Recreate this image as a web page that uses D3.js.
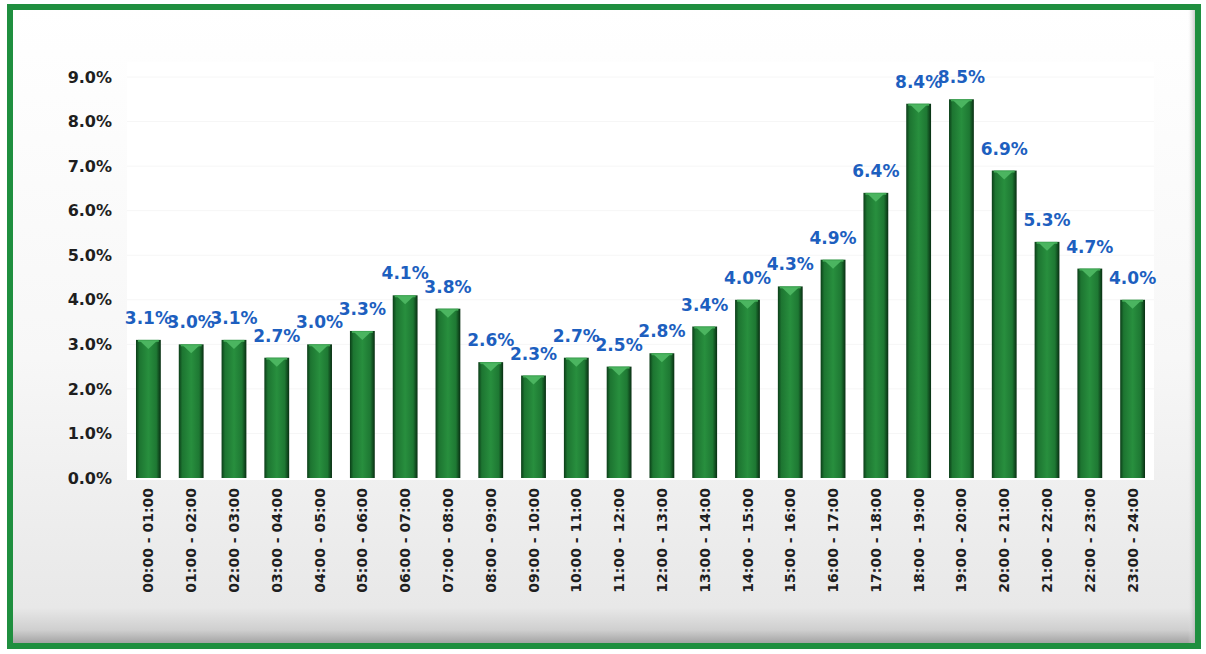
<!DOCTYPE html>
<html>
<head>
<meta charset="utf-8">
<script src="https://cdn.jsdelivr.net/npm/d3@7"></script>
<style>
  body { margin: 0; background: #fff; }
  svg { display: block; font-family: "DejaVu Sans", Verdana, sans-serif; }
</style>
</head>
<body>
<svg></svg>
<script>
const hours = ["00:00 - 01:00", "01:00 - 02:00", "02:00 - 03:00", "03:00 - 04:00",
  "04:00 - 05:00", "05:00 - 06:00", "06:00 - 07:00", "07:00 - 08:00",
  "08:00 - 09:00", "09:00 - 10:00", "10:00 - 11:00", "11:00 - 12:00",
  "12:00 - 13:00", "13:00 - 14:00", "14:00 - 15:00", "15:00 - 16:00",
  "16:00 - 17:00", "17:00 - 18:00", "18:00 - 19:00", "19:00 - 20:00",
  "20:00 - 21:00", "21:00 - 22:00", "22:00 - 23:00", "23:00 - 24:00"];
const shares = [0.031, 0.030, 0.031, 0.027, 0.030, 0.033, 0.041, 0.038,
  0.026, 0.023, 0.027, 0.025, 0.028, 0.034, 0.040, 0.043,
  0.049, 0.064, 0.084, 0.085, 0.069, 0.053, 0.047, 0.040];
const yTicks = [0, 0.01, 0.02, 0.03, 0.04, 0.05, 0.06, 0.07, 0.08, 0.09];

const W = 1206, H = 654;
const svg = d3.select('svg').attr('width', W).attr('height', H);
const defs = svg.append('defs');

// chart area background: white fading to light grey at the bottom
const bg = defs.append('linearGradient').attr('id', 'bg')
    .attr('x1', 0).attr('y1', 0).attr('x2', 0).attr('y2', 1);
bg.append('stop').attr('offset', '0%').attr('stop-color', '#ffffff');
bg.append('stop').attr('offset', '55%').attr('stop-color', '#f7f7f7');
bg.append('stop').attr('offset', '94%').attr('stop-color', '#e8e8e8');
bg.append('stop').attr('offset', '97.5%').attr('stop-color', '#cfcfcf');
bg.append('stop').attr('offset', '100%').attr('stop-color', '#9a9a9a');

const rs = defs.append('linearGradient').attr('id', 'rs')
    .attr('x1', 0).attr('y1', 0).attr('x2', 1).attr('y2', 0);
rs.append('stop').attr('offset', '0%').attr('stop-color', '#e6e6e6').attr('stop-opacity', 0);
rs.append('stop').attr('offset', '100%').attr('stop-color', '#a0a0a0').attr('stop-opacity', 1);

// bar body
const bar = defs.append('linearGradient').attr('id', 'bar')
    .attr('x1', 0).attr('y1', 0).attr('x2', 1).attr('y2', 0);
[['0%', '#0b3d18'], ['14%', '#1d7531'], ['50%', '#288f3e'], ['82%', '#1e7833'], ['100%', '#082e12']]
  .forEach(s => bar.append('stop').attr('offset', s[0]).attr('stop-color', s[1]));

svg.append('rect')
    .attr('x', 10).attr('y', 7).attr('width', 1188).attr('height', 639)
    .attr('fill', 'url(#bg)');
svg.append('rect')
    .attr('x', 1188).attr('y', 7).attr('width', 10).attr('height', 639)
    .attr('fill', 'url(#rs)');

const x = d3.scaleBand()
    .domain(hours)
    .range([127, 1154])
    .paddingInner(0.42)
    .paddingOuter(0.21);

const y = d3.scaleLinear()
    .domain([0, 0.09])
    .range([478, 77]);

// plot area
svg.append('rect')
    .attr('x', 127).attr('y', 62)
    .attr('width', 1154 - 127).attr('height', 480 - 62)
    .attr('fill', '#ffffff');

svg.append('g')
  .selectAll('line')
  .data(yTicks.slice(1))
  .enter().append('line')
    .attr('x1', 127).attr('x2', 1154)
    .attr('y1', d => y(d)).attr('y2', d => y(d))
    .attr('stroke', '#f6f6f6');

// y axis labels
const yAxis = svg.append('g')
    .attr('transform', 'translate(127,0)')
    .call(d3.axisLeft(y).tickValues(yTicks).tickFormat(d3.format('.1%')).tickSize(0).tickPadding(15));
yAxis.select('.domain').remove();
yAxis.selectAll('text')
    .attr('font-size', 16)
    .attr('font-weight', 'bold')
    .attr('font-family', '"DejaVu Sans", Verdana, sans-serif')
    .attr('fill', '#1e1e1e');

// x axis labels, vertical
const xAxis = svg.append('g')
    .attr('transform', 'translate(0,478)')
    .call(d3.axisBottom(x).tickSize(0).tickPadding(0));
xAxis.select('.domain').remove();
xAxis.selectAll('text')
    .attr('font-size', 14)
    .attr('font-weight', 'bold')
    .attr('font-family', '"DejaVu Sans", Verdana, sans-serif')
    .attr('fill', '#1e1e1e')
    .attr('text-anchor', 'end')
    .attr('transform', 'rotate(-90)')
    .attr('x', -10)
    .attr('y', 0)
    .attr('dy', '0.36em');

// bars
const bars = svg.append('g').selectAll('g')
    .data(hours.map((h, i) => ({ h: h, v: shares[i] })))
    .enter().append('g');

bars.append('rect')
    .attr('x', d => x(d.h))
    .attr('y', d => y(d.v))
    .attr('width', x.bandwidth())
    .attr('height', d => y(0) - y(d.v))
    .attr('fill', 'url(#bar)');

bars.append('rect')
    .attr('x', d => x(d.h) + 2)
    .attr('y', d => y(d.v))
    .attr('width', x.bandwidth() - 4)
    .attr('height', 2)
    .attr('fill', '#3fa653');

bars.append('path')
    .attr('d', d => {
      const x0 = x(d.h), w = x.bandwidth(), t = y(d.v);
      return 'M' + (x0 + 4) + ',' + (t + 1) + 'L' + (x0 + w - 4) + ',' + (t + 1) +
        'L' + (x0 + w / 2) + ',' + (t + 9) + 'Z';
    })
    .attr('fill', '#4bb560');

// value labels
bars.append('text')
    .attr('x', d => x(d.h) + x.bandwidth() / 2)
    .attr('y', d => y(d.v) - 16)
    .attr('text-anchor', 'middle')
    .attr('font-size', 17)
    .attr('font-weight', 'bold')
    .attr('fill', '#1d5fbf')
    .text(d => d3.format('.1%')(d.v));

// outer green frame
svg.append('rect')
    .attr('x', 10).attr('y', 7).attr('width', 1188).attr('height', 639)
    .attr('fill', 'none')
    .attr('stroke', '#1f8f3f')
    .attr('stroke-width', 6);
</script>
</body>
</html>
